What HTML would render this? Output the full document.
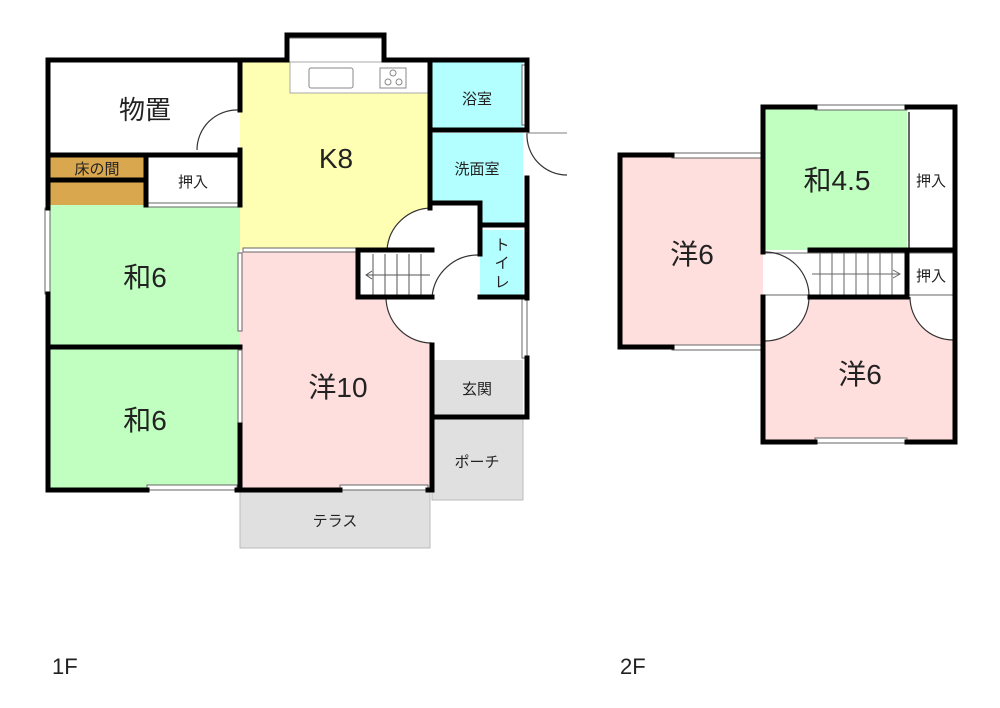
<!DOCTYPE html>
<html><head><meta charset="utf-8"><style>
body{margin:0;background:#fff;}
svg{display:block}
text{font-family:"Liberation Sans","Noto Sans CJK JP",sans-serif;fill:#222;}
</style></head><body>
<svg width="1000" height="708" viewBox="0 0 1000 708" xmlns="http://www.w3.org/2000/svg">
<!-- 1F fills -->
<rect x="240" y="490" width="190" height="58" fill="#e0e0e0" stroke="#bbb" stroke-width="1"/>
<rect x="432" y="418" width="91" height="82" fill="#e0e0e0" stroke="#bbb" stroke-width="1"/>
<rect x="432" y="360" width="91" height="57" fill="#e0e0e0"/>
<rect x="50" y="62" width="190" height="93" fill="#fff"/>
<rect x="50" y="157" width="96" height="22" fill="#d9a74e"/>
<rect x="50" y="182" width="96" height="23" fill="#d9a74e"/>
<rect x="240" y="62" width="190" height="188" fill="#ffffb3"/>
<path d="M432 250 L432 208 A45 45 0 0 0 387 250 Z" fill="#fff"/>
<rect x="290" y="62" width="140" height="31" fill="#fff" stroke="#aaa" stroke-width="1"/>
<rect x="309" y="68" width="44" height="20" rx="2" fill="none" stroke="#888" stroke-width="1"/>
<rect x="380" y="68" width="26" height="20" fill="none" stroke="#888" stroke-width="1"/>
<circle cx="393" cy="73" r="3" fill="none" stroke="#888"/><circle cx="388" cy="82" r="3" fill="none" stroke="#888"/><circle cx="399" cy="82" r="3" fill="none" stroke="#888"/>
<rect x="432" y="62" width="91" height="68" fill="#b3ffff"/>
<rect x="432" y="133" width="91" height="69" fill="#b3ffff"/>
<rect x="480" y="202" width="43" height="23" fill="#b3ffff"/>
<rect x="480" y="230" width="43" height="67" fill="#b3ffff"/>
<rect x="50" y="205" width="190" height="142" fill="#c0ffc0"/>
<rect x="50" y="349" width="190" height="140" fill="#c0ffc0"/>
<rect x="240" y="252" width="190" height="237" fill="#ffdede"/>
<path d="M432 297 L386 297 A46 46 0 0 0 432 343 Z" fill="#fff"/>
<rect x="358" y="252" width="74" height="45" fill="#fff"/>
<!-- stairs -->
<g stroke="#555" stroke-width="1">
<line x1="373" y1="254" x2="373" y2="295"/><line x1="385" y1="254" x2="385" y2="295"/><line x1="397" y1="254" x2="397" y2="295"/><line x1="409" y1="254" x2="409" y2="295"/><line x1="421" y1="254" x2="421" y2="295"/>
<line x1="366" y1="275" x2="430" y2="275"/><polyline points="372,271 366,275 372,279" fill="none"/>
</g>
<!-- door arcs -->
<g fill="none" stroke="#333" stroke-width="1.2">
<path d="M238 110 A40 40 0 0 0 197 150"/>
<path d="M432 208 A45 45 0 0 0 387 250"/>
<path d="M478 255 A46 46 0 0 0 432 297"/>
<path d="M386 297 A46 46 0 0 0 432 343"/>
<path d="M527 133 A40 40 0 0 0 567 175"/>
<line x1="527" y1="133" x2="567" y2="133" stroke="#999"/>
</g>
<!-- windows -->
<g fill="#fff" stroke="#666" stroke-width="1">
<rect x="147" y="485" width="90" height="5"/><rect x="340" y="485" width="88" height="5"/>
<rect x="45" y="208" width="5" height="86"/><rect x="522" y="298" width="5" height="60"/>
<rect x="147" y="203" width="92" height="4"/><rect x="243" y="248" width="125" height="4"/>
<rect x="238" y="253" width="4" height="78"/><rect x="238" y="350" width="4" height="75"/>
<rect x="290" y="33" width="92" height="5"/>
<rect x="522" y="65" width="5" height="60"/>
</g>
<!-- walls 1F -->
<g stroke="#000" stroke-width="5" fill="none" stroke-linecap="square">
<polyline points="48,60 287,60 287,35 384,35 384,60 527,60 527,130"/>
<line x1="48" y1="60" x2="48" y2="208"/><line x1="48" y1="294" x2="48" y2="490"/>
<polyline points="48,490 147,490"/><line x1="237" y1="490" x2="340" y2="490"/><line x1="428" y1="490" x2="432" y2="490"/>
<line x1="240" y1="60" x2="240" y2="110"/><line x1="240" y1="150" x2="240" y2="205"/>
<line x1="48" y1="155" x2="240" y2="155"/><line x1="48" y1="180" x2="146" y2="180"/><line x1="146" y1="155" x2="146" y2="205"/>
<line x1="48" y1="347" x2="240" y2="347"/>
<line x1="240" y1="425" x2="240" y2="490"/>
<line x1="430" y1="60" x2="430" y2="208"/><line x1="430" y1="130" x2="527" y2="130"/>
<polyline points="430,203 480,203 480,225 527,225"/>
<line x1="527" y1="178" x2="527" y2="298"/>
<polyline points="432,250 358,250 358,297 432,297"/>
<line x1="480" y1="228" x2="480" y2="254"/><line x1="480" y1="297" x2="527" y2="297"/>
<line x1="432" y1="345" x2="432" y2="490"/>
<line x1="527" y1="358" x2="527" y2="417"/><line x1="432" y1="417" x2="527" y2="417"/>
</g>
<!-- 2F fills -->
<rect x="622" y="157" width="141" height="190" fill="#ffdede"/>
<rect x="765" y="109" width="142" height="141" fill="#c0ffc0"/>
<rect x="907" y="109" width="46" height="141" fill="#fff"/>
<rect x="765" y="299" width="188" height="141" fill="#ffdede"/>
<path d="M765 297 L809 297 A44 44 0 0 1 765 341 Z" fill="#fff"/>
<path d="M953 297 L910 297 A43 43 0 0 0 953 340 Z" fill="#fff"/>
<g stroke="#666" stroke-width="1" fill="none">
<line x1="765" y1="253" x2="953" y2="253"/><line x1="765" y1="295" x2="953" y2="295"/>
<line x1="820" y1="253" x2="820" y2="295"/><line x1="832" y1="253" x2="832" y2="295"/><line x1="844" y1="253" x2="844" y2="295"/><line x1="856" y1="253" x2="856" y2="295"/><line x1="868" y1="253" x2="868" y2="295"/><line x1="880" y1="253" x2="880" y2="295"/><line x1="892" y1="253" x2="892" y2="295"/>
<line x1="812" y1="274" x2="900" y2="274"/><polyline points="893,270 900,274 893,278"/>
<line x1="909" y1="112" x2="909" y2="248" stroke-width="2"/>
</g>
<g fill="none" stroke="#333" stroke-width="1.2">
<path d="M765 252 A44 44 0 0 1 809 297"/>
<path d="M809 297 A44 44 0 0 1 765 341"/>
<path d="M910 297 A43 43 0 0 0 953 340"/>
</g>
<g fill="#fff" stroke="#666" stroke-width="1">
<rect x="672" y="153" width="91" height="5"/><rect x="672" y="345" width="91" height="5"/>
<rect x="815" y="105" width="92" height="5"/><rect x="815" y="438" width="92" height="5"/>
</g>
<g stroke="#000" stroke-width="5" fill="none" stroke-linecap="square">
<polyline points="672,155 620,155 620,347 672,347"/>
<line x1="763" y1="155" x2="763" y2="252"/><line x1="763" y1="297" x2="763" y2="442"/>
<polyline points="815,107 763,107 763,155"/><polyline points="907,107 955,107 955,442 907,442"/>
<line x1="763" y1="442" x2="815" y2="442"/>
<line x1="810" y1="250" x2="955" y2="250"/><polyline points="810,297 907,297 907,250"/>
</g>
<!-- labels -->
<text x="145" y="119" font-size="26" text-anchor="middle">物置</text>
<text x="97" y="174" font-size="15" text-anchor="middle">床の間</text>
<text x="193" y="187" font-size="15" text-anchor="middle">押入</text>
<text x="336" y="168" font-size="28" text-anchor="middle">K8</text>
<text x="477" y="104" font-size="15" text-anchor="middle">浴室</text>
<text x="477" y="174" font-size="15" text-anchor="middle">洗面室</text>
<text x="502" y="250" font-size="15" text-anchor="middle">ト</text><text x="502" y="268" font-size="15" text-anchor="middle">イ</text><text x="502" y="287" font-size="15" text-anchor="middle">レ</text>
<text x="145" y="287" font-size="28" text-anchor="middle">和6</text>
<text x="145" y="430" font-size="28" text-anchor="middle">和6</text>
<text x="338" y="397" font-size="28" text-anchor="middle">洋10</text>
<text x="477" y="394" font-size="15" text-anchor="middle">玄関</text>
<text x="477" y="467" font-size="15" text-anchor="middle">ポーチ</text>
<text x="335" y="526" font-size="15" text-anchor="middle">テラス</text>
<text x="692" y="264" font-size="28" text-anchor="middle">洋6</text>
<text x="837" y="190" font-size="28" text-anchor="middle">和4.5</text>
<text x="931" y="186" font-size="15" text-anchor="middle">押入</text>
<text x="931" y="281" font-size="15" text-anchor="middle">押入</text>
<text x="860" y="384" font-size="28" text-anchor="middle">洋6</text>
<text x="52" y="674" font-size="22">1F</text>
<text x="620" y="674" font-size="22">2F</text>
</svg>
</body></html>
